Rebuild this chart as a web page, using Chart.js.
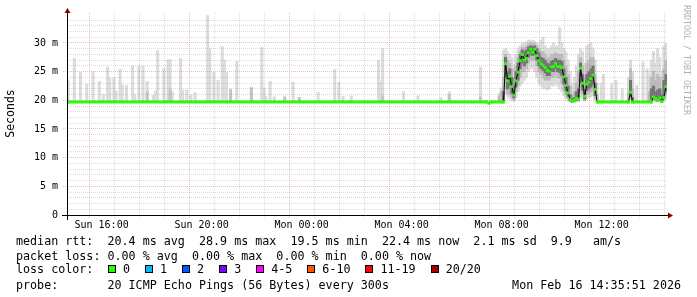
<!DOCTYPE html>
<html>
<head>
<meta charset="utf-8">
<script src="https://cdn.jsdelivr.net/npm/chart.js@4.4.1/dist/chart.umd.min.js"></script>
<style>
  body { margin: 0; background: #fff; }
  #wrap { position: relative; width: 697px; height: 297px; }
  .row { position: absolute; left: 16px; font: 11.7px "DejaVu Sans Mono", monospace; line-height: 14px; white-space: pre; color: #000; }
  #loss { position: absolute; left: 108px; top: 262px; display: flex; align-items: center; height: 14px; font: 11.7px "DejaVu Sans Mono", monospace; white-space: pre; }
  #loss .box { width: 8px; height: 8px; border: 1px solid #000; box-sizing: border-box; margin-right: 7px; }
  #loss .lbl { margin-right: 15px; }
  #credit { position: absolute; left: 682px; top: 5px; writing-mode: vertical-rl; font: 8.3px "DejaVu Sans Mono", monospace; color: #b0b0b0; white-space: pre; }
</style>
</head>
<body>
<div id="wrap">
  <canvas id="chart" width="697" height="297"></canvas>
  <div id="credit">RRDTOOL / TOBI OETIKER</div>
  <div class="row" style="top:234px">median rtt:  20.4 ms avg  28.9 ms max  19.5 ms min  22.4 ms now  2.1 ms sd  9.9   am/s</div>
  <div class="row" style="top:249px">packet loss: 0.00 % avg  0.00 % max  0.00 % min  0.00 % now</div>
  <div class="row" style="top:262px">loss color:</div>
  <div id="loss"></div>
  <div class="row" style="top:278px">probe:       20 ICMP Echo Pings (56 Bytes) every 300s</div>
  <div class="row" style="top:278px; left:auto; right:16px">Mon Feb 16 14:35:51 2026</div>
</div>
<script>
// graph starts Sun 14:37, one sample every 5 minutes (slot = sample number)
const startClock = "14:37";
const xTickLabels = ["Sun 16:00", "Sun 20:00", "Mon 00:00", "Mon 04:00", "Mon 08:00", "Mon 12:00"];
const yTickLabels = ["0", "5 m", "10 m", "15 m", "20 m", "25 m", "30 m"];

const lossLabels = ["0", "1", "2", "3", "4-5", "6-10", "11-19", "20/20"];
const lossColors = ["#26ff00", "#00b8ff", "#0059ff", "#7e00ff", "#ff00ff", "#ff5500", "#ff0000", "#a10000"];

// median rtt (ms)
const medSlot = [0, 201, 202, 203, 209,
  210, 211, 212, 213, 214, 215, 216, 217, 218, 219, 220, 221, 222, 223, 224, 225, 226, 227, 228, 229,
  230, 231, 232, 233, 234, 235, 236, 237, 238, 239, 240, 241, 242, 243, 244, 245, 246, 247, 248, 249,
  250, 251, 252, 253, 254, 269, 270, 271, 280, 281, 282, 283, 284, 285, 286, 287];
const medMs = [19.7, 19.7, 19.5, 19.7, 19.7,
  26.4, 23.4, 24.2, 22.4, 20.9, 23.4, 24.9, 26.9, 28.0, 27.0, 27.3, 28.3, 28.9, 28.4, 28.9, 27.8, 26.9, 26.4, 26.1, 25.7,
  25.2, 25.1, 25.8, 25.9, 26.4, 25.9, 25.9, 25.7, 24.1, 22.6, 21.3, 20.1, 19.8, 20.0, 20.3, 20.2, 25.6, 23.0, 20.7, 22.8,
  23.2, 23.8, 24.4, 21.9, 19.7, 19.7, 21.4, 19.7, 19.7, 20.6, 20.3, 20.0, 20.4, 19.8, 20.5, 22.4];

// single outlier pings during the quiet hours
const spikeBase = 19.6;
const spikeSlot = [0, 3, 6, 9, 12, 15, 17, 19, 20, 22, 23, 25, 26, 28, 31, 32, 34, 36, 38, 41, 42, 43, 46, 48, 49, 50,
  54, 55, 57, 59, 61, 67, 68, 70, 72, 74, 75, 76, 78, 81, 88, 93, 94, 95, 97, 99, 104,
  108, 111, 120, 128, 130, 132, 136, 149, 150, 151, 161, 168, 179, 183, 198,
  256, 257, 261, 263, 266, 273, 276, 278];
const spikeTop = [23.6, 27.3, 24.9, 22.8, 25.0, 23.3, 21.0, 25.8, 23.9, 24.0, 21.6, 25.4, 22.8, 22.6, 26.0, 21.0, 26.0, 26.0, 23.3, 20.9, 21.6, 28.7, 25.5, 27.1, 27.1, 21.5,
  27.3, 21.8, 21.8, 20.9, 21.3, 34.8, 29.0, 24.9, 23.5, 29.4, 27.0, 24.9, 21.9, 26.8, 22.2, 29.3, 22.2, 20.6, 23.3, 20.6, 20.7,
  23.2, 20.5, 21.4, 25.4, 23.2, 20.7, 20.8, 27.0, 23.3, 29.0, 21.5, 20.8, 20.5, 21.5, 25.8,
  23.0, 24.5, 22.9, 23.5, 22.0, 22.6, 26.7, 25.5];
const coreSlot = [38, 49, 78, 88, 104, 111, 151, 183, 198];
const coreTop = [21.5, 22.0, 21.9, 22.2, 20.5, 20.5, 20.8, 21.0, 20.6];

// smoke during the busy hours: [low, high] of outer / middle / inner ping ranks
const busySlot = [207, 208, 209, 210, 211, 212, 213, 214, 215, 216, 217, 218, 219, 220, 221, 222, 223, 224, 225, 226,
  227, 228, 229, 230, 231, 232, 233, 234, 235, 236, 237, 238, 239, 240, 241, 242, 243, 244, 245, 246,
  247, 248, 249, 250, 251, 252, 253, 254, 269, 270, 271, 279, 280, 281, 282, 283, 284, 285, 286, 287];
const outerBand = [[19.7, 21.2], [19.7, 22.2], [19.7, 28.8], [21.0, 29.0], [20.5, 28.5], [20.3, 28.0], [20.0, 27.5], [19.8, 26.0], [20.5, 28.0], [21.5, 29.0],
  [22.5, 29.5], [23.0, 30.0], [23.5, 30.0], [24.0, 30.2], [25.0, 30.5], [25.5, 30.5], [25.5, 30.5], [25.0, 30.3], [24.0, 30.0], [23.0, 29.7],
  [22.5, 30.5], [22.0, 31.0], [22.0, 29.5], [21.8, 29.0], [22.0, 29.0], [22.5, 29.5], [22.5, 30.0], [23.0, 29.5], [22.5, 29.5], [22.0, 32.7],
  [21.5, 30.0], [20.8, 29.0], [20.3, 28.5], [19.9, 27.0], [19.7, 25.0], [19.6, 23.0], [19.6, 24.0], [19.7, 26.0], [19.7, 28.0], [20.5, 29.0],
  [20.3, 28.5], [19.8, 26.5], [20.3, 29.5], [20.5, 29.8], [20.5, 30.0], [20.8, 29.0], [20.0, 27.0], [19.6, 23.0],
  [19.7, 24.0], [19.8, 27.0], [19.6, 25.0],
  [19.7, 24.5], [19.7, 27.0], [19.8, 28.5], [19.7, 26.5], [19.7, 29.0], [19.8, 27.5], [19.6, 25.0], [19.8, 29.5], [20.3, 30.0]];
const midBand = [[19.7, 20.8], [19.8, 21.6], [19.8, 24.0], [22.0, 28.0], [21.2, 27.0], [21.0, 26.5], [20.5, 25.5], [20.1, 24.0], [21.5, 26.0], [22.5, 27.5],
  [24.0, 28.5], [25.0, 29.3], [25.0, 29.2], [25.5, 29.5], [26.5, 29.8], [27.0, 30.0], [27.0, 29.9], [27.0, 29.9], [26.0, 29.5], [25.0, 29.0],
  [24.5, 28.5], [24.0, 28.5], [23.5, 28.0], [23.5, 27.5], [23.5, 27.5], [24.0, 28.0], [24.0, 28.0], [24.5, 28.3], [24.0, 28.0], [23.8, 28.0],
  [23.0, 28.0], [21.8, 27.0], [21.0, 26.0], [20.3, 24.5], [19.9, 22.5], [19.7, 21.0], [19.8, 21.5], [19.9, 23.0], [20.0, 25.0], [21.5, 27.5],
  [21.0, 26.0], [20.0, 24.0], [21.0, 26.5], [21.3, 27.0], [21.5, 27.5], [21.8, 27.5], [20.3, 24.5], [19.7, 21.0],
  [19.7, 21.5], [20.2, 25.5], [19.7, 22.0],
  [19.7, 21.5], [20.0, 24.0], [20.0, 25.0], [19.9, 23.5], [19.9, 24.5], [20.0, 24.0], [19.7, 22.0], [20.2, 25.5], [21.0, 27.0]];
const innerBand = [null, null, [19.8, 21.5], [24.0, 27.5], [22.0, 25.0], [22.5, 25.5], [21.2, 24.0], [20.4, 22.5], [22.3, 25.0], [23.5, 26.5],
  [25.5, 28.0], [26.5, 28.8], [26.0, 28.5], [26.5, 28.8], [27.5, 29.3], [28.0, 29.5], [27.8, 29.4], [28.0, 29.5], [27.0, 29.0], [26.0, 28.3],
  [25.5, 27.5], [25.2, 27.3], [24.8, 27.0], [24.3, 26.5], [24.3, 26.3], [25.0, 26.8], [25.0, 27.0], [25.5, 27.3], [25.0, 27.0], [24.8, 27.0],
  [24.3, 26.8], [22.8, 25.5], [21.6, 24.0], [20.7, 22.5], [19.9, 21.0], [19.7, 20.3], [19.8, 20.5], [20.0, 21.5], [20.0, 22.0], [23.0, 26.5],
  [21.8, 24.5], [20.2, 22.0], [21.7, 24.5], [22.0, 25.0], [22.3, 25.5], [22.8, 26.0], [20.8, 23.0], null,
  null, [20.6, 23.5], [19.7, 20.5],
  null, [20.2, 22.0], [20.3, 22.5], [20.1, 21.5], [20.0, 21.8], [20.2, 22.0], [19.8, 21.0], [20.6, 23.5], [21.6, 24.5]];

const GREEN = lossColors[0];
const MAJOR = "rgba(210, 90, 90, 0.4)";
const MINOR = "rgba(128, 128, 128, 0.28)";
const MONO = "DejaVu Sans Mono";

function clockMinutes(text) {
  const [h, m] = text.split(":").map(Number);
  return h * 60 + m;
}

const startMin = clockMinutes(startClock);
const majorMinutes = xTickLabels.map(label => {
  const [day, time] = label.split(" ");
  return (day === "Mon" ? 1440 : 0) + clockMinutes(time) - startMin;
});
const hourTicks = [];
for (let m = 60 - (startMin % 60); m < 1440; m += 60) hourTicks.push(m);

const slotX = s => s * 5 + 2.5;

function bars(slots, bands) {
  const out = [];
  slots.forEach((s, i) => { if (bands[i]) out.push({ x: slotX(s), y: bands[i] }); });
  return out;
}

const spikeBands = spikeTop.map(v => [spikeBase, v]);
const coreBands = coreTop.map(v => [spikeBase, v]);
const medPoints = medSlot.map((s, i) => ({ x: slotX(s), y: medMs[i] }));

const barStyle = { type: "bar", barThickness: 2.4, grouped: false, borderWidth: 0 };

const isMajorX = c => !!c.tick && majorMinutes.includes(c.tick.value);
const isMajorY = c => !!c.tick && c.tick.value % 5 === 0;

// legend boxes for loss colours
const lossDiv = document.getElementById("loss");
lossLabels.forEach((label, i) => {
  lossDiv.insertAdjacentHTML("beforeend",
    `<span class="box" style="background:${lossColors[i]}"></span><span class="lbl">${label}</span>`);
});

const axisArrows = {
  id: "axisArrows",
  afterDraw(chart) {
    const { ctx, chartArea: a } = chart;
    ctx.save();
    ctx.strokeStyle = "#000";
    ctx.lineWidth = 1;
    ctx.beginPath();
    ctx.moveTo(a.left - 5, a.bottom + 0.5);
    ctx.lineTo(a.right + 2, a.bottom + 0.5);
    ctx.moveTo(a.left + 0.5, a.bottom + 5);
    ctx.lineTo(a.left + 0.5, a.top - 1);
    ctx.stroke();
    ctx.fillStyle = "#8b0000";
    ctx.beginPath();
    ctx.moveTo(a.left + 0.5, a.top - 4);
    ctx.lineTo(a.left - 2.5, a.top + 1);
    ctx.lineTo(a.left + 3.5, a.top + 1);
    ctx.fill();
    ctx.beginPath();
    ctx.moveTo(a.right + 6, a.bottom + 0.5);
    ctx.lineTo(a.right + 1, a.bottom - 2.5);
    ctx.lineTo(a.right + 1, a.bottom + 3.5);
    ctx.fill();
    ctx.restore();
  }
};

new Chart(document.getElementById("chart"), {
  type: "bar",
  data: {
    datasets: [
      { ...barStyle, data: bars(spikeSlot, spikeBands), backgroundColor: "#dcdcdc", order: 10 },
      { ...barStyle, data: bars(busySlot, outerBand), backgroundColor: "#dcdcdc", order: 9 },
      { ...barStyle, data: bars(coreSlot, coreBands), backgroundColor: "#c4c4c4", order: 8 },
      { ...barStyle, data: bars(busySlot, midBand), backgroundColor: "#bdbdbd", order: 7 },
      { ...barStyle, data: bars(busySlot, innerBand), backgroundColor: "#747474", order: 6 },
      {
        type: "line", data: medPoints, borderColor: "#000", borderWidth: 1,
        pointRadius: 0, tension: 0, order: 2
      },
      {
        type: "line", data: medPoints, borderWidth: 3, borderCapStyle: "butt", tension: 0,
        pointStyle: "rect", pointRadius: 2.1, pointBorderWidth: 0, pointBackgroundColor: GREEN,
        segment: { borderColor: c => c.p0.parsed.y === c.p1.parsed.y ? GREEN : "transparent" },
        order: 1
      }
    ]
  },
  options: {
    responsive: false,
    animation: false,
    devicePixelRatio: 1,
    layout: { padding: { left: 0, right: 30, top: 12, bottom: 62 } },
    plugins: { legend: { display: false }, tooltip: { enabled: false } },
    scales: {
      x: {
        type: "linear",
        min: 0,
        max: 1440,
        offset: false,
        afterBuildTicks: scale => { scale.ticks = hourTicks.map(v => ({ value: v })); },
        afterFit: scale => { scale.height = 20; },
        grid: {
          z: 1,
          color: c => isMajorX(c) ? MAJOR : MINOR,
          tickColor: c => isMajorX(c) ? MAJOR : MINOR,
          tickLength: 3,
          tickBorderDash: [1, 1]
        },
        border: { display: false, dash: [1, 1] },
        ticks: {
          autoSkip: false, maxRotation: 0, minRotation: 0, padding: 1,
          color: "#000", font: { family: MONO, size: 10 },
          callback: v => {
            const k = majorMinutes.indexOf(v);
            return k >= 0 ? xTickLabels[k] : "";
          }
        }
      },
      y: {
        min: 0,
        max: 35.4,
        afterFit: scale => { scale.width = 67; },
        grid: {
          z: 1,
          color: c => isMajorY(c) ? MAJOR : MINOR,
          tickColor: c => isMajorY(c) ? MAJOR : "transparent",
          tickLength: 4,
          tickBorderDash: [1, 1]
        },
        border: { display: false, dash: [1, 1] },
        title: {
          display: true, text: "Seconds", color: "#000",
          font: { family: MONO, size: 11.5 }, padding: { top: 4, bottom: 0 }
        },
        ticks: {
          stepSize: 1, includeBounds: false, autoSkip: false, padding: 5,
          color: "#000", font: { family: MONO, size: 10 },
          callback: v => v % 5 === 0 ? yTickLabels[v / 5] : ""
        }
      }
    }
  },
  plugins: [axisArrows]
});
</script>
</body>
</html>
